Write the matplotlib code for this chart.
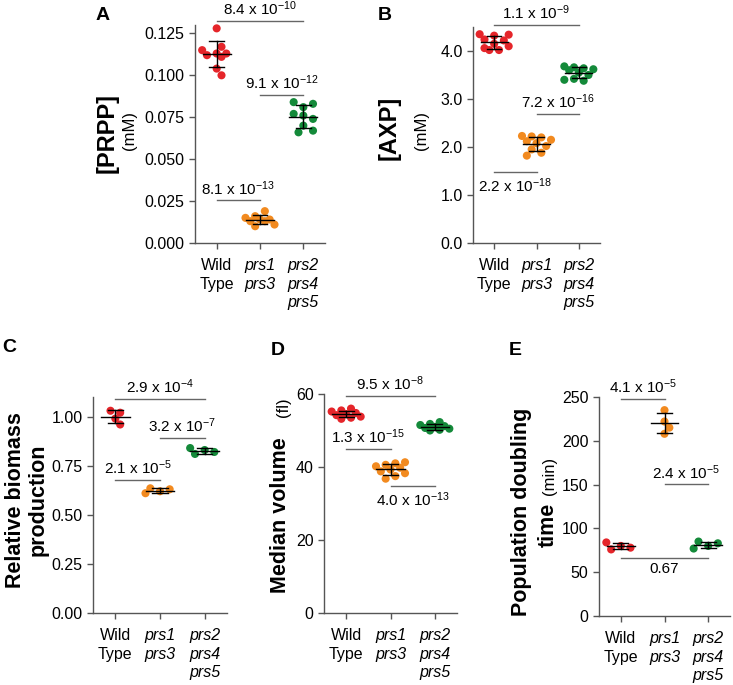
import matplotlib
matplotlib.use('Agg')
import matplotlib.pyplot as plt
import numpy as np

plt.rcParams['font.family'] = ['Liberation Sans', 'DejaVu Sans']
plt.rcParams['mathtext.fontset'] = 'custom'
plt.rcParams['mathtext.rm'] = 'Liberation Sans'
plt.rcParams['mathtext.it'] = 'Liberation Sans:italic'
plt.rcParams['mathtext.bf'] = 'Liberation Sans:bold'

# ---- data ----
groups = ['Wild\nType', 'prs1\nprs3', 'prs2\nprs4\nprs5']
colors = ['#e5252a', '#f28a1f', '#148a3a']

prpp_wt = [0.128, 0.117, 0.115, 0.113, 0.112, 0.113, 0.111, 0.104, 0.100]
prpp_prs13 = [0.019, 0.016, 0.015, 0.014, 0.014, 0.013, 0.013, 0.011, 0.010]
prpp_prs245 = [0.084, 0.083, 0.081, 0.077, 0.076, 0.074, 0.070, 0.067, 0.066]

axp_wt = [4.35, 4.34, 4.32, 4.24, 4.22, 4.15, 4.10, 4.06, 4.02, 4.02]
axp_prs13 = [2.23, 2.22, 2.20, 2.15, 2.12, 2.08, 2.02, 1.95, 1.88, 1.82]
axp_prs245 = [3.68, 3.66, 3.64, 3.62, 3.60, 3.55, 3.50, 3.42, 3.40, 3.38]

biomass_wt = [1.03, 1.02, 0.99, 0.96]
biomass_prs13 = [0.635, 0.63, 0.62, 0.61]
biomass_prs245 = [0.84, 0.83, 0.82, 0.81]

volume_wt = [56.0, 55.5, 55.2, 54.8, 54.5, 54.2, 53.8, 53.5, 53.2]
volume_prs13 = [41.3, 41.0, 40.6, 40.2, 39.8, 39.3, 38.8, 38.3, 37.5, 36.8]
volume_prs245 = [52.3, 51.8, 51.5, 51.2, 51.0, 50.7, 50.5, 50.2, 50.0]

doubling_wt = [84, 80, 78, 76]
doubling_prs13 = [235, 222, 215, 208]
doubling_prs245 = [85, 83, 80, 77]

# p-values: (group i, group j, bar height, label, text above bar)
prpp_p = [(0, 2, 0.1323, '8.4 x 10$^{-10}$', True),
          (1, 2, 0.0883, '9.1 x 10$^{-12}$', True),
          (0, 1, 0.0254, '8.1 x 10$^{-13}$', True)]
axp_p = [(0, 2, 4.54, '1.1 x 10$^{-9}$', True),
         (1, 2, 2.69, '7.2 x 10$^{-16}$', True),
         (0, 1, 1.48, '2.2 x 10$^{-18}$', False)]
biomass_p = [(0, 2, 1.09, '2.9 x 10$^{-4}$', True),
             (1, 2, 0.892, '3.2 x 10$^{-7}$', True),
             (0, 1, 0.679, '2.1 x 10$^{-5}$', True)]
volume_p = [(0, 2, 59.5, '9.5 x 10$^{-8}$', True),
            (0, 1, 44.9, '1.3 x 10$^{-15}$', True),
            (1, 2, 34.7, '4.0 x 10$^{-13}$', False)]
doubling_p = [(0, 1, 248, '4.1 x 10$^{-5}$', True),
              (1, 2, 150.3, '2.4 x 10$^{-5}$', True),
              (0, 2, 66.6, '0.67', False)]

W, H = 733, 685
fig = plt.figure(figsize=(W / 100, H / 100), dpi=100)


def px_axes(left, top, right, bottom):
    return fig.add_axes([left / W, 1 - bottom / H, (right - left) / W, (bottom - top) / H])


def swarm(ax, vals, xc, dia):
    # beeswarm-ish layout, capped in width so dense groups overlap a bit
    tr = ax.transData
    ppx = tr.transform((1, 0))[0] - tr.transform((0, 0))[0]
    m = np.mean(vals)
    order = np.argsort(np.abs(np.array(vals) - m))
    placed, xs = [], np.zeros(len(vals))
    cands = [0, 1, -1, 2, -2, 3, -3]
    for idx in order:
        y = tr.transform((0, vals[idx]))[1]
        best, best_d = 0, -1
        for k in cands:
            dx = k * dia * 0.62
            d = min([np.hypot(dx - a, y - b) for a, b in placed] or [99])
            if d >= dia * 0.95:
                best = dx
                break
            if d > best_d:
                best, best_d = dx, d
        placed.append((best, y))
        xs[idx] = xc + best / ppx
    return xs


def panel(ax, data, ylim, yticks, fmt, pvals):
    ax.set_xlim(-0.5, 2.5)
    ax.set_ylim(*ylim)
    ax.set_yticks(yticks)
    ax.set_yticklabels([fmt.format(t) for t in yticks])
    ax.set_xticks([0, 1, 2])
    ax.set_xticklabels(groups, fontsize=11.5, linespacing=1.3)
    for lbl in ax.get_xticklabels()[1:]:
        lbl.set_style('italic')
    for s in ['top', 'right']:
        ax.spines[s].set_visible(False)
    for s in ['left', 'bottom']:
        ax.spines[s].set_color('#555555')
        ax.spines[s].set_linewidth(1)
    ax.tick_params(direction='out', length=4, width=1, color='#555555', labelsize=11.5)
    ax.tick_params(axis='x', pad=7)

    for i, (vals, c) in enumerate(zip(data, colors)):
        xs = swarm(ax, vals, i, 7.8)
        ax.scatter(xs, vals, s=34, color=c, edgecolors='none', zorder=2, clip_on=False)
        m = np.mean(vals)
        sd = np.std(vals, ddof=1)
        ax.plot([i - 0.32, i + 0.32], [m, m], color='k', lw=1, zorder=3)
        ax.plot([i - 0.17, i + 0.17], [m + sd, m + sd], color='k', lw=1, zorder=3)
        ax.plot([i - 0.17, i + 0.17], [m - sd, m - sd], color='k', lw=1, zorder=3)
        ax.plot([i, i], [m - sd, m + sd], color='k', lw=1, zorder=3)

    for i, j, y, txt, above in pvals:
        ax.plot([i, j], [y, y], color='#666666', lw=1, clip_on=False)
        ax.annotate(txt, xy=((i + j) / 2, y), xytext=(0, 2 if above else -3),
                    textcoords='offset points', ha='center',
                    va='bottom' if above else 'top', fontsize=11, annotation_clip=False)


axA = px_axes(195, 25, 325, 243)
panel(axA, [prpp_wt, prpp_prs13, prpp_prs245], (0, 0.13),
      [0, 0.025, 0.05, 0.075, 0.1, 0.125], '{:.3f}', prpp_p)

axB = px_axes(473, 27, 600, 243)
panel(axB, [axp_wt, axp_prs13, axp_prs245], (0, 4.5),
      [0, 1, 2, 3, 4], '{:.1f}', axp_p)

axC = px_axes(93, 397, 227, 613)
panel(axC, [biomass_wt, biomass_prs13, biomass_prs245], (0, 1.1),
      [0, 0.25, 0.5, 0.75, 1.0], '{:.2f}', biomass_p)

axD = px_axes(324, 394, 457, 613)
panel(axD, [volume_wt, volume_prs13, volume_prs245], (0, 60),
      [0, 20, 40, 60], '{:.0f}', volume_p)

axE = px_axes(599, 397, 730, 616)
panel(axE, [doubling_wt, doubling_prs13, doubling_prs245], (0, 250),
      [0, 50, 100, 150, 200, 250], '{:.0f}', doubling_p)


def ftext(x, y, s, **kw):
    fig.text(x / W, 1 - y / H, s, ha='center', va='center', **kw)


# panel letters
for x, y, s in [(103, 15, 'A'), (385, 15, 'B'), (9, 348, 'C'), (278, 350, 'D'), (515, 350, 'E')]:
    ftext(x, y, s, fontsize=14, fontweight='bold')

# y axis titles
ftext(107, 133, '[PRPP]', fontsize=17, fontweight='bold', rotation=90)
ftext(129, 130, '(mM)', fontsize=12, rotation=90)
ftext(389, 128, '[AXP]', fontsize=17, fontweight='bold', rotation=90)
ftext(422, 130, '(mM)', fontsize=12, rotation=90)
ftext(27, 500, 'Relative biomass\nproduction', fontsize=15.5, fontweight='bold',
      rotation=90, linespacing=1.1)
ftext(280, 515, 'Median volume', fontsize=15.5, fontweight='bold', rotation=90)
ftext(284, 407, '(fl)', fontsize=12, rotation=90)
ftext(522, 512, 'Population doubling', fontsize=15.5, fontweight='bold', rotation=90)
ftext(548, 525, 'time', fontsize=15.5, fontweight='bold', rotation=90)
ftext(550, 476, '(min)', fontsize=12, rotation=90)

fig.savefig('out.png', dpi=100)
